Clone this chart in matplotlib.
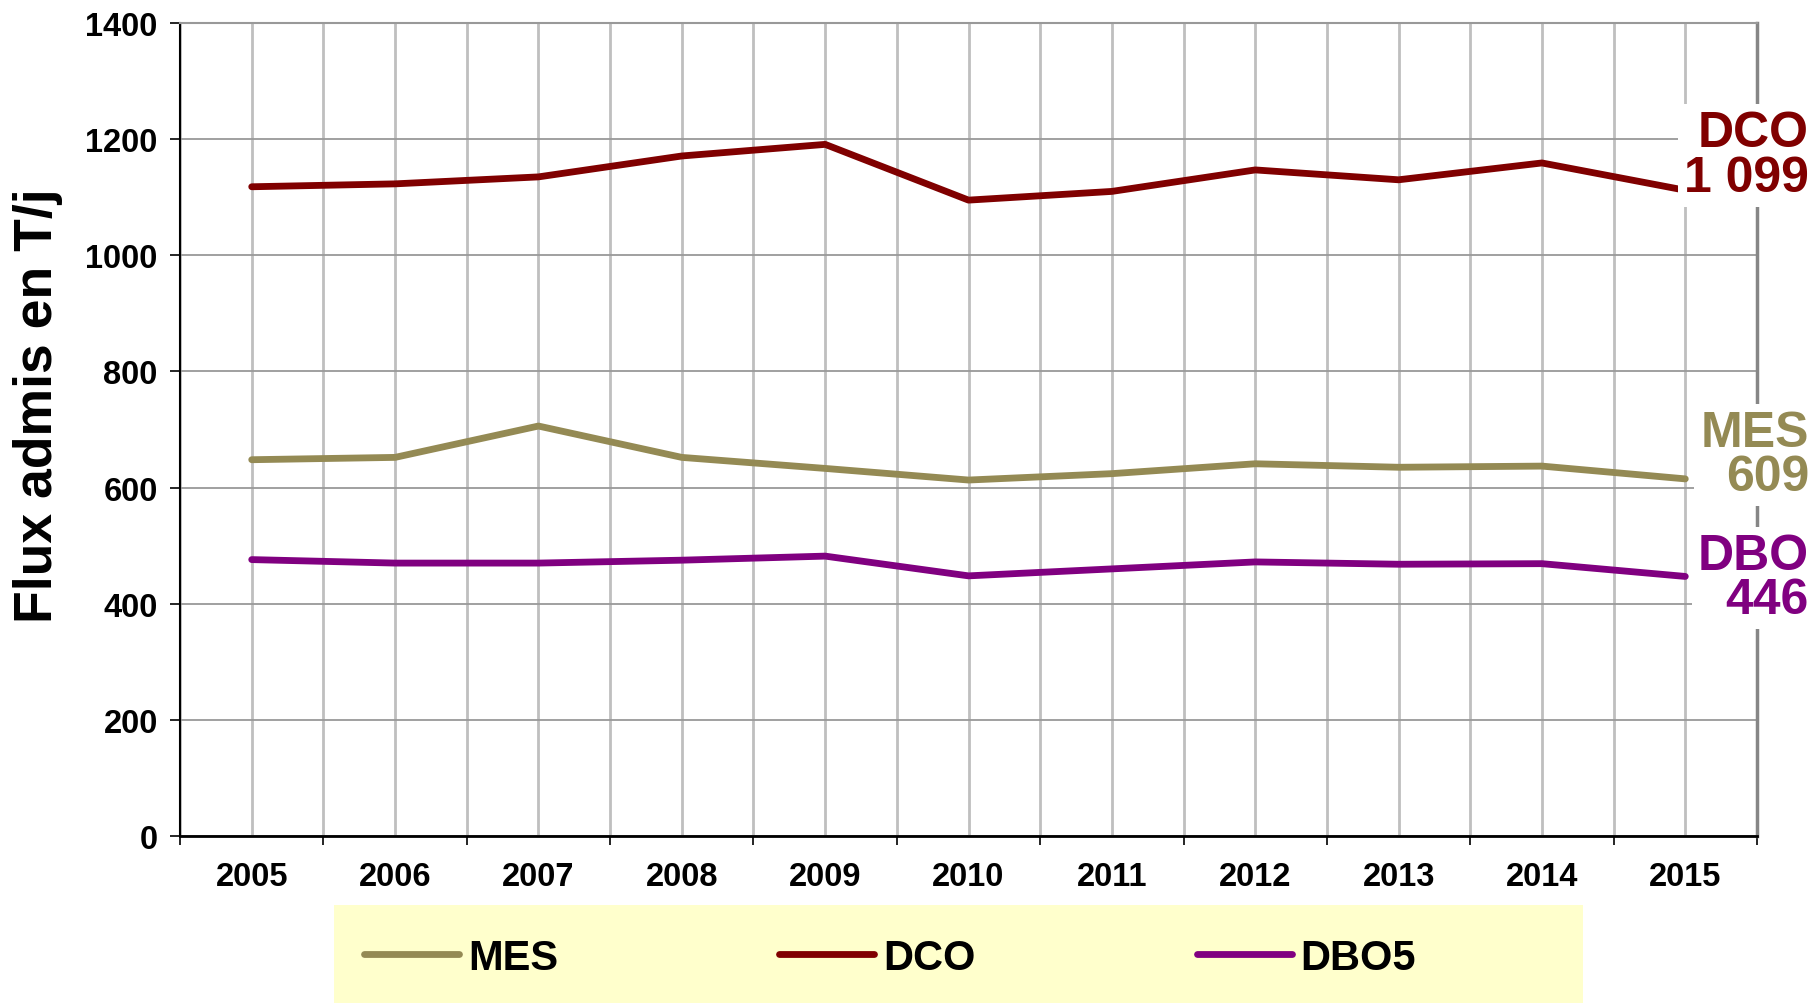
import matplotlib.pyplot as plt
from matplotlib.patches import Rectangle
from matplotlib.ticker import FixedLocator

plt.rcParams['font.family'] = ['Liberation Sans', 'DejaVu Sans']
plt.rcParams['font.weight'] = 'bold'

years = ["2005", "2006", "2007", "2008", "2009", "2010", "2011", "2012", "2013", "2014", "2015"]
mes = [648, 652, 706, 652, 633, 613, 624, 641, 635, 637, 615]
dco = [1118, 1123, 1135, 1171, 1191, 1095, 1110, 1147, 1130, 1159, 1112]
dbo5 = [476, 470, 470, 475, 482, 448, 460, 472, 468, 469, 447]

series_names = ["MES", "DCO", "DBO5"]
end_labels = ["MES\n609", "DCO\n1 099", "DBO\n446"]
colors = ["#948A54", "#800000", "#800080"]

fig = plt.figure(figsize=(18.13, 10.04), dpi=100)
ax = fig.add_axes([0.0993, 0.1663, 0.8698, 0.8098])

x = list(range(len(years)))
lines = []
for vals, name, col in zip([mes, dco, dbo5], series_names, colors):
    ln, = ax.plot(x, vals, color=col, lw=4.9, solid_capstyle='round', label=name, zorder=3)
    lines.append(ln)

ax.set_xlim(-0.5, len(years) - 0.5)
ax.set_ylim(0, 1400)
ax.set_yticks(range(0, 1401, 200))
ax.xaxis.set_major_locator(FixedLocator([i - 0.5 for i in range(len(years) + 1)]))
ax.xaxis.set_minor_locator(FixedLocator(x))
ax.set_xticklabels([])
ax.set_xticklabels(years, minor=True)

ax.tick_params(axis='x', which='major', length=6.5, width=1.2, direction='out', color='black')
ax.tick_params(axis='x', which='minor', length=0, pad=18, labelsize=23.5)
ax.tick_params(axis='y', length=7, width=1.2, direction='out', pad=9, labelsize=23.5)
for lab in ax.get_xticklabels(minor=True) + ax.get_yticklabels():
    lab.set_fontweight('bold')

ax.grid(axis='y', color='#999999', lw=1.3, zorder=0)
ax.grid(axis='x', which='both', color='#BFBFBF', lw=2, zorder=0)
ax.set_axisbelow(True)

ax.spines['left'].set_color('black')
ax.spines['left'].set_linewidth(1.5)
ax.spines['bottom'].set_color('black')
ax.spines['bottom'].set_linewidth(2)
ax.spines['right'].set_color('#868686')
ax.spines['right'].set_linewidth(2.5)
ax.spines['top'].set_color('#999999')
ax.spines['top'].set_linewidth(1.5)

# end-of-line labels
offsets = [17, 25, -1]
for vals, text, col, dy in zip([mes, dco, dbo5], end_labels, colors, offsets):
    ax.annotate(text, xy=(x[-1], vals[-1]), xytext=(89, dy), textcoords='offset points',
                ha='right', va='center', multialignment='right', fontsize=36,
                fontweight='bold', color=col, linespacing=0.95, zorder=5,
                annotation_clip=False,
                bbox=dict(boxstyle='square,pad=0.12', fc='white', ec='none'))

fig.text(38 / 1813, 1 - 406 / 1004, "Flux admis en T/j", rotation=90, ha='center', va='center',
         fontsize=38.5, fontweight='bold')

# legend box
fig.patches.append(Rectangle((334 / 1813, 0), (1583 - 334) / 1813, (1004 - 906) / 1004,
                             transform=fig.transFigure, facecolor='#FFFFCC', edgecolor='none', zorder=0))
leg = fig.legend(lines, series_names, loc='center left', bbox_to_anchor=(364 / 1813, 1 - 959 / 1004),
                 ncol=3, frameon=False, fontsize=30, handlelength=2.28, handletextpad=0.22,
                 columnspacing=5.3, borderpad=0, borderaxespad=0)
for t in leg.get_texts():
    t.set_fontweight('bold')

fig.savefig("out.png", dpi=100)
